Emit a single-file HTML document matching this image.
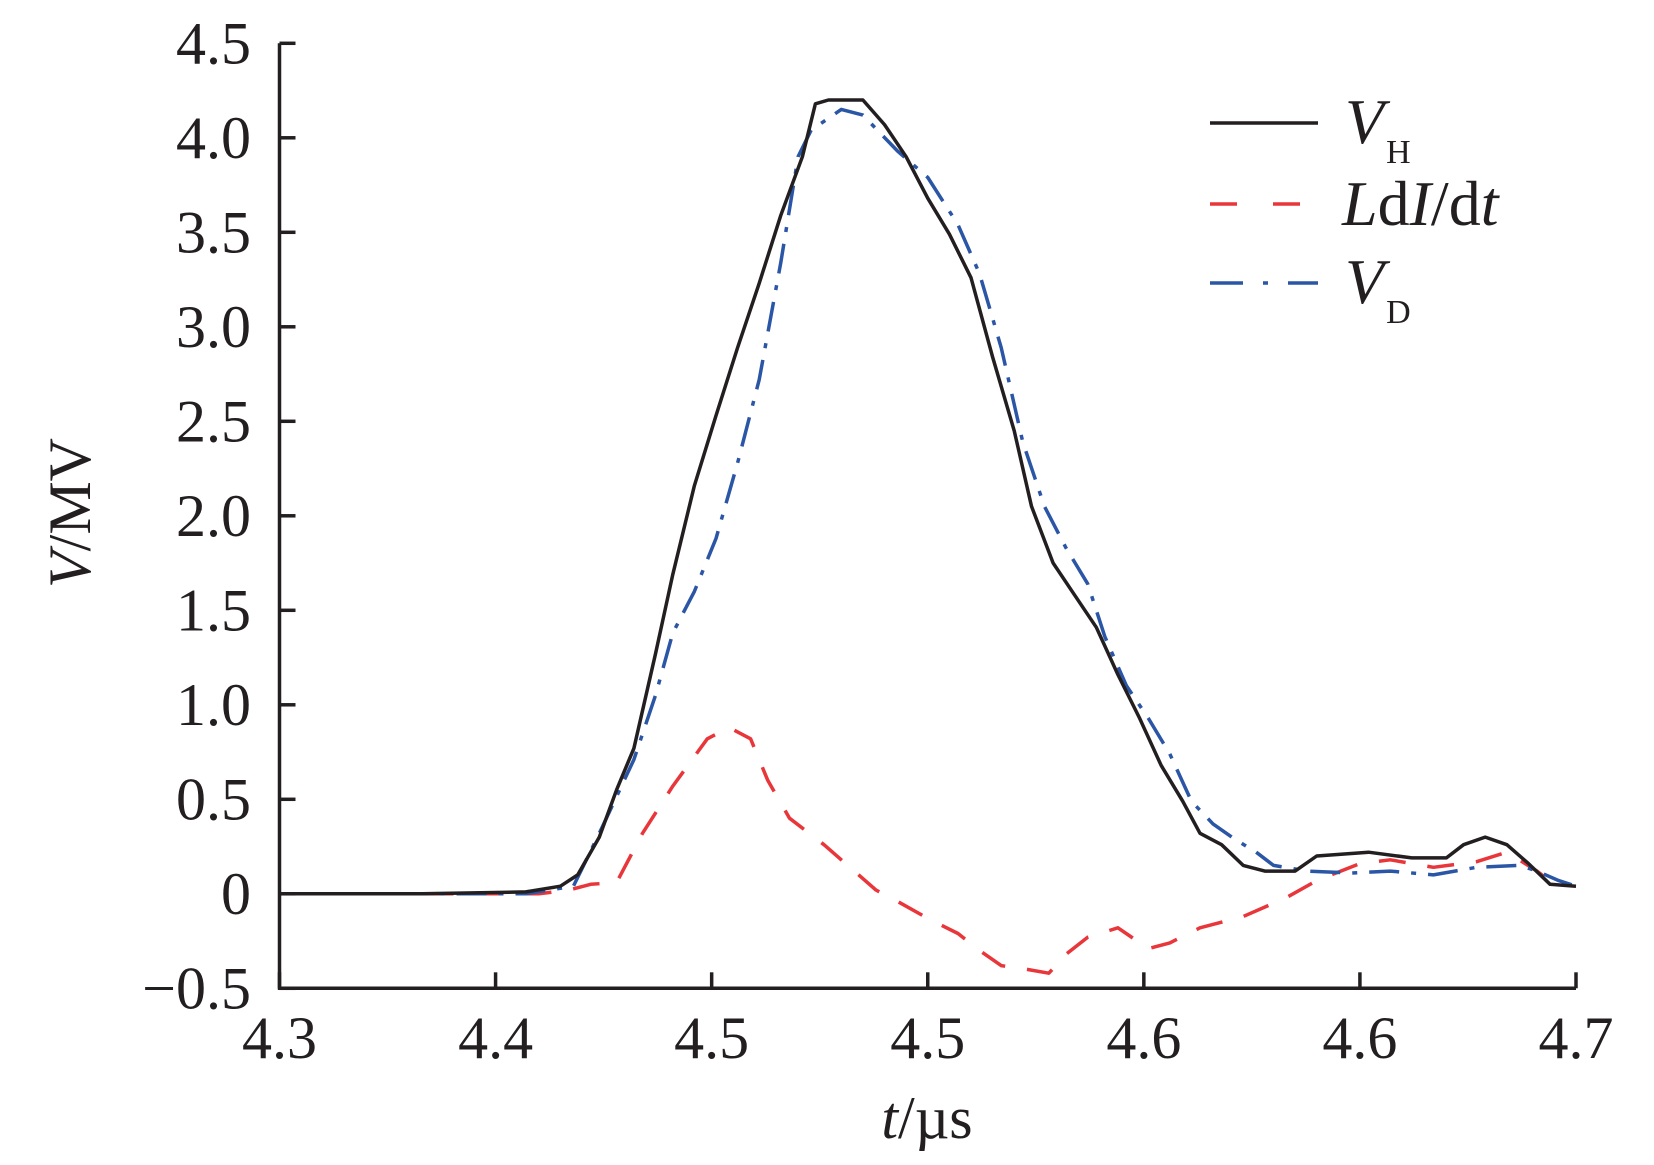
<!DOCTYPE html>
<html><head><meta charset="utf-8"><style>
html,body{margin:0;padding:0;background:#fff;}
svg{display:block;font-family:"Liberation Serif",serif;}
</style></head><body>
<svg id="chart" width="1654" height="1165" viewBox="0 0 1654 1165" xmlns="http://www.w3.org/2000/svg">
<g id="axes"></g>
<g id="series"></g>
<g id="legend">
  <line x1="1210" y1="123" x2="1318" y2="123" stroke="#231f20" stroke-width="3.5"/>
  <text x="1345" y="143" font-size="64" font-style="italic" fill="#231f20">V<tspan font-style="normal" font-size="34" dx="2" dy="20">H</tspan></text>
  <line x1="1210" y1="204" x2="1318" y2="204" stroke="#e8363a" stroke-width="3.5" stroke-dasharray="27 36"/>
  <text x="1342" y="225" font-size="64" fill="#231f20"><tspan font-style="italic">L</tspan>d<tspan font-style="italic">I</tspan>/d<tspan font-style="italic">t</tspan></text>
  <line x1="1210" y1="283" x2="1318" y2="283" stroke="#2b56a6" stroke-width="3.5" stroke-dasharray="33 20 5 20"/>
  <text x="1345" y="303" font-size="64" font-style="italic" fill="#231f20">V<tspan font-style="normal" font-size="34" dx="2" dy="20">D</tspan></text>
</g>
</svg>
<script>
const xTickLabels = ["4.3","4.4","4.5","4.5","4.6","4.6","4.7"];
const xTickValues = [4.30,4.35,4.40,4.45,4.50,4.55,4.60];
const yTickLabels = ["\u22120.5","0","0.5","1.0","1.5","2.0","2.5","3.0","3.5","4.0","4.5"];
const yTickValues = [-0.5,0,0.5,1.0,1.5,2.0,2.5,3.0,3.5,4.0,4.5];

const vhT = [4.300,4.333,4.357,4.365,4.369,4.374,4.378,4.382,4.387,4.391,4.396,4.401,4.406,4.411,4.416,4.421,4.424,4.427,4.435,4.440,4.445,4.450,4.455,4.460,4.465,4.470,4.474,4.479,4.484,4.489,4.494,4.499,4.504,4.509,4.513,4.518,4.523,4.528,4.535,4.540,4.552,4.562,4.570,4.574,4.579,4.584,4.589,4.594,4.600];
const vhV = [0,0,0.01,0.04,0.1,0.3,0.55,0.77,1.27,1.69,2.16,2.53,2.89,3.23,3.59,3.9,4.18,4.2,4.2,4.07,3.9,3.68,3.49,3.26,2.84,2.45,2.05,1.75,1.58,1.41,1.16,0.93,0.68,0.49,0.32,0.26,0.15,0.12,0.12,0.2,0.22,0.19,0.19,0.26,0.3,0.26,0.16,0.05,0.04];

const ldiT = [4.300,4.330,4.360,4.367,4.372,4.378,4.384,4.391,4.399,4.404,4.409,4.413,4.418,4.426,4.430,4.438,4.443,4.450,4.457,4.462,4.467,4.473,4.478,4.482,4.487,4.494,4.501,4.506,4.513,4.523,4.533,4.540,4.550,4.557,4.567,4.577,4.584,4.591,4.596];
const ldiV = [0,0,0,0.02,0.05,0.06,0.32,0.57,0.82,0.88,0.82,0.6,0.4,0.26,0.18,0.02,-0.04,-0.13,-0.21,-0.3,-0.38,-0.4,-0.42,-0.32,-0.23,-0.18,-0.29,-0.26,-0.18,-0.12,-0.02,0.07,0.16,0.18,0.14,0.17,0.22,0.12,0.03];

const vdT = [4.300,4.333,4.357,4.368,4.374,4.382,4.387,4.391,4.396,4.401,4.406,4.411,4.416,4.420,4.423,4.430,4.435,4.443,4.450,4.457,4.462,4.467,4.472,4.477,4.482,4.487,4.491,4.496,4.501,4.506,4.511,4.516,4.521,4.526,4.530,4.538,4.548,4.557,4.567,4.577,4.587,4.591,4.596,4.600];
const vdV = [0,0,0,0.04,0.32,0.71,1.05,1.38,1.6,1.88,2.28,2.72,3.34,3.9,4.04,4.15,4.12,3.93,3.79,3.54,3.28,2.89,2.39,2.05,1.83,1.64,1.36,1.1,0.93,0.74,0.49,0.37,0.29,0.22,0.15,0.12,0.11,0.12,0.1,0.14,0.15,0.12,0.07,0.04];

const X0 = 279.5, X1 = 1576, Y0 = 893.8, YPER = 189;
function xs(t){ return X0 + (t - 4.30) / 0.30 * (X1 - X0); }
function ys(v){ return Y0 - v * YPER; }
const NS = "http://www.w3.org/2000/svg";
const axes = document.getElementById('axes');
const series = document.getElementById('series');
function mk(tag, attrs, parent){ const e = document.createElementNS(NS, tag); for (const k in attrs) e.setAttribute(k, attrs[k]); parent.appendChild(e); return e; }

const yBottom = ys(-0.5);
const yAxis = mk('line', {x1:X0, y1:ys(4.5), x2:X0, y2:yBottom+1.5, stroke:'#231f20','stroke-width':3.5}, axes);


const xAxis = mk('line', {x1:X0-1.5, y1:yBottom, x2:X1, y2:yBottom, stroke:'#231f20','stroke-width':3.5}, axes);



yTickValues.forEach((v, i) => {
  const y = ys(v);
  const tk = mk('line', {x1:X0, y1:y, x2:X0+16, y2:y, stroke:'#231f20','stroke-width':3.5}, axes);
  
  
  const lb = mk('text', {x:251, y:y+20, 'text-anchor':'end', 'font-size':60, fill:'#231f20'}, axes);
  lb.textContent = yTickLabels[i];
  
  
});
xTickValues.forEach((t, i) => {
  const x = xs(t);
  const tk = mk('line', {x1:x, y1:yBottom, x2:x, y2:yBottom-16, stroke:'#231f20','stroke-width':3.5}, axes);
  
  
  const lb = mk('text', {x:x, y:1058, 'text-anchor':'middle', 'font-size':60, fill:'#231f20'}, axes);
  lb.textContent = xTickLabels[i];
  
  
});

const yt = mk('text', {x:0, y:0, transform:'translate(90,513) rotate(-90)', 'text-anchor':'middle', 'font-size':60, fill:'#231f20'}, axes);
yt.innerHTML = '<tspan font-style="italic">V</tspan>/MV';


const xt = mk('text', {x:927, y:1138, 'text-anchor':'middle', 'font-size':60, fill:'#231f20'}, axes);
xt.innerHTML = '<tspan font-style="italic">t</tspan>/\u00b5s';



function pts(T, V){ return T.map((t, i) => xs(t).toFixed(1) + ',' + ys(V[i]).toFixed(1)).join(' '); }
const lRed = mk('polyline', {points:pts(ldiT, ldiV), fill:'none', stroke:'#e8363a','stroke-width':3.5,'stroke-dasharray':'27 22','stroke-linejoin':'round'}, series);


const lBlue = mk('polyline', {points:pts(vdT, vdV), fill:'none', stroke:'#2b56a6','stroke-width':3.5,'stroke-dasharray':'30 12 5 12','stroke-linejoin':'round'}, series);


const lBlack = mk('polyline', {points:pts(vhT, vhV), fill:'none', stroke:'#231f20','stroke-width':3.5,'stroke-linejoin':'round'}, series);


</script>
</body></html>
